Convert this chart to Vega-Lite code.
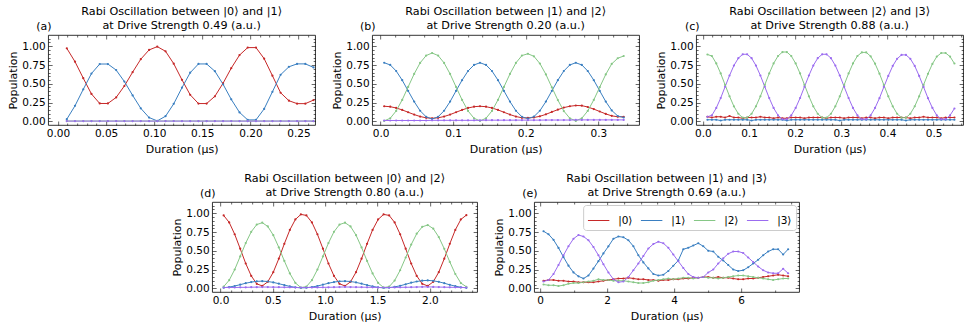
{
"$schema": "https://vega.github.io/schema/vega-lite/v6.json",
"padding": {"left": 7, "top": 5, "right": 2, "bottom": 2},
"background": "white",
"config": {
  "font": "DejaVu Sans",
  "view": {"stroke": "black", "strokeWidth": 0.8},
  "axis": {"domain": false, "grid": false, "tickColor": "black", "tickWidth": 0.6, "labelFont": "DejaVu Sans", "labelFontSize": 10.5, "labelColor": "black", "titleFont": "DejaVu Sans", "titleFontSize": 11, "titleFontWeight": "normal", "titleColor": "black", "labelFlush": false, "labelOverlap": false, "labelBound": false, "labelPadding": 7, "titlePadding": 3},
  "title": {"font": "DejaVu Sans", "fontSize": 11.2, "fontWeight": "normal", "color": "black", "anchor": "middle", "frame": "group", "lineHeight": 14, "offset": -11},
  "line": {"strokeWidth": 1}
},
"datasets": {"rabi": [
{"p":"a","t":0.0092,"s0":0.972,"s1":0.028,"s2":0.003,"s3":0.002},
{"p":"a","t":0.0177,"s0":0.794,"s1":0.206,"s2":0.003,"s3":0.002},
{"p":"a","t":0.0263,"s0":0.574,"s1":0.426,"s2":0.003,"s3":0.002},
{"p":"a","t":0.0348,"s0":0.364,"s1":0.636,"s2":0.003,"s3":0.002},
{"p":"a","t":0.0434,"s0":0.237,"s1":0.763,"s2":0.003,"s3":0.002},
{"p":"a","t":0.0519,"s0":0.237,"s1":0.763,"s2":0.003,"s3":0.002},
{"p":"a","t":0.0605,"s0":0.318,"s1":0.682,"s2":0.003,"s3":0.002},
{"p":"a","t":0.069,"s0":0.470,"s1":0.530,"s2":0.003,"s3":0.002},
{"p":"a","t":0.0776,"s0":0.655,"s1":0.345,"s2":0.003,"s3":0.002},
{"p":"a","t":0.0861,"s0":0.828,"s1":0.172,"s2":0.003,"s3":0.002},
{"p":"a","t":0.0947,"s0":0.951,"s1":0.049,"s2":0.003,"s3":0.002},
{"p":"a","t":0.1032,"s0":0.995,"s1":0.005,"s2":0.003,"s3":0.002},
{"p":"a","t":0.1118,"s0":0.933,"s1":0.067,"s2":0.003,"s3":0.002},
{"p":"a","t":0.1203,"s0":0.768,"s1":0.232,"s2":0.003,"s3":0.002},
{"p":"a","t":0.1289,"s0":0.552,"s1":0.448,"s2":0.003,"s3":0.002},
{"p":"a","t":0.1374,"s0":0.353,"s1":0.647,"s2":0.003,"s3":0.002},
{"p":"a","t":0.146,"s0":0.236,"s1":0.764,"s2":0.003,"s3":0.002},
{"p":"a","t":0.1545,"s0":0.236,"s1":0.764,"s2":0.003,"s3":0.002},
{"p":"a","t":0.1631,"s0":0.333,"s1":0.667,"s2":0.003,"s3":0.002},
{"p":"a","t":0.1716,"s0":0.507,"s1":0.493,"s2":0.003,"s3":0.002},
{"p":"a","t":0.1801,"s0":0.708,"s1":0.292,"s2":0.003,"s3":0.002},
{"p":"a","t":0.1887,"s0":0.882,"s1":0.118,"s2":0.003,"s3":0.002},
{"p":"a","t":0.1972,"s0":0.982,"s1":0.018,"s2":0.003,"s3":0.002},
{"p":"a","t":0.2058,"s0":0.982,"s1":0.018,"s2":0.003,"s3":0.002},
{"p":"a","t":0.2143,"s0":0.835,"s1":0.165,"s2":0.003,"s3":0.002},
{"p":"a","t":0.2229,"s0":0.607,"s1":0.393,"s2":0.003,"s3":0.002},
{"p":"a","t":0.2314,"s0":0.380,"s1":0.620,"s2":0.003,"s3":0.002},
{"p":"a","t":0.24,"s0":0.274,"s1":0.726,"s2":0.003,"s3":0.002},
{"p":"a","t":0.2485,"s0":0.235,"s1":0.765,"s2":0.003,"s3":0.002},
{"p":"a","t":0.2571,"s0":0.235,"s1":0.765,"s2":0.003,"s3":0.002},
{"p":"a","t":0.2656,"s0":0.282,"s1":0.718,"s2":0.003,"s3":0.002},
{"p":"b","t":0.005,"s0":0.200,"s1":0.780,"s2":0.005,"s3":0.010},
{"p":"b","t":0.0133,"s0":0.194,"s1":0.751,"s2":0.040,"s3":0.010},
{"p":"b","t":0.0215,"s0":0.177,"s1":0.670,"s2":0.138,"s3":0.010},
{"p":"b","t":0.0298,"s0":0.151,"s1":0.548,"s2":0.285,"s3":0.010},
{"p":"b","t":0.038,"s0":0.120,"s1":0.405,"s2":0.458,"s3":0.010},
{"p":"b","t":0.0463,"s0":0.089,"s1":0.262,"s2":0.631,"s3":0.010},
{"p":"b","t":0.0545,"s0":0.063,"s1":0.140,"s2":0.778,"s3":0.010},
{"p":"b","t":0.0628,"s0":0.046,"s1":0.059,"s2":0.876,"s3":0.010},
{"p":"b","t":0.071,"s0":0.040,"s1":0.030,"s2":0.910,"s3":0.012},
{"p":"b","t":0.0793,"s0":0.046,"s1":0.059,"s2":0.876,"s3":0.012},
{"p":"b","t":0.0875,"s0":0.063,"s1":0.140,"s2":0.778,"s3":0.012},
{"p":"b","t":0.0958,"s0":0.089,"s1":0.262,"s2":0.631,"s3":0.012},
{"p":"b","t":0.104,"s0":0.120,"s1":0.405,"s2":0.458,"s3":0.012},
{"p":"b","t":0.1123,"s0":0.151,"s1":0.548,"s2":0.285,"s3":0.012},
{"p":"b","t":0.1205,"s0":0.177,"s1":0.670,"s2":0.138,"s3":0.012},
{"p":"b","t":0.1288,"s0":0.194,"s1":0.751,"s2":0.040,"s3":0.012},
{"p":"b","t":0.137,"s0":0.200,"s1":0.780,"s2":0.005,"s3":0.012},
{"p":"b","t":0.1453,"s0":0.194,"s1":0.751,"s2":0.040,"s3":0.014},
{"p":"b","t":0.1535,"s0":0.177,"s1":0.670,"s2":0.138,"s3":0.014},
{"p":"b","t":0.1618,"s0":0.151,"s1":0.548,"s2":0.285,"s3":0.014},
{"p":"b","t":0.17,"s0":0.120,"s1":0.405,"s2":0.458,"s3":0.014},
{"p":"b","t":0.1783,"s0":0.089,"s1":0.262,"s2":0.631,"s3":0.014},
{"p":"b","t":0.1865,"s0":0.063,"s1":0.140,"s2":0.778,"s3":0.015},
{"p":"b","t":0.1948,"s0":0.046,"s1":0.059,"s2":0.876,"s3":0.015},
{"p":"b","t":0.203,"s0":0.045,"s1":0.035,"s2":0.900,"s3":0.015},
{"p":"b","t":0.2113,"s0":0.050,"s1":0.062,"s2":0.866,"s3":0.015},
{"p":"b","t":0.2195,"s0":0.066,"s1":0.140,"s2":0.770,"s3":0.015},
{"p":"b","t":0.2278,"s0":0.092,"s1":0.262,"s2":0.625,"s3":0.016},
{"p":"b","t":0.236,"s0":0.124,"s1":0.405,"s2":0.452,"s3":0.016},
{"p":"b","t":0.2443,"s0":0.155,"s1":0.548,"s2":0.282,"s3":0.016},
{"p":"b","t":0.2525,"s0":0.182,"s1":0.670,"s2":0.136,"s3":0.016},
{"p":"b","t":0.2608,"s0":0.200,"s1":0.751,"s2":0.040,"s3":0.016},
{"p":"b","t":0.269,"s0":0.210,"s1":0.780,"s2":0.005,"s3":0.018},
{"p":"b","t":0.2773,"s0":0.208,"s1":0.751,"s2":0.040,"s3":0.018},
{"p":"b","t":0.2855,"s0":0.190,"s1":0.670,"s2":0.138,"s3":0.018},
{"p":"b","t":0.2938,"s0":0.162,"s1":0.548,"s2":0.285,"s3":0.018},
{"p":"b","t":0.302,"s0":0.130,"s1":0.405,"s2":0.455,"s3":0.018},
{"p":"b","t":0.3103,"s0":0.098,"s1":0.262,"s2":0.625,"s3":0.018},
{"p":"b","t":0.3185,"s0":0.072,"s1":0.145,"s2":0.765,"s3":0.018},
{"p":"b","t":0.3268,"s0":0.060,"s1":0.070,"s2":0.840,"s3":0.018},
{"p":"b","t":0.335,"s0":0.060,"s1":0.050,"s2":0.870,"s3":0.018},
{"p":"c","t":0.01,"s0":0.06,"s1":0.02,"s2":0.890,"s3":0.060},
{"p":"c","t":0.0196,"s0":0.05,"s1":0.02,"s2":0.870,"s3":0.079},
{"p":"c","t":0.0291,"s0":0.06,"s1":0.02,"s2":0.771,"s3":0.177},
{"p":"c","t":0.0387,"s0":0.06,"s1":0.01,"s2":0.637,"s3":0.310},
{"p":"c","t":0.0482,"s0":0.05,"s1":0.02,"s2":0.485,"s3":0.460},
{"p":"c","t":0.0578,"s0":0.07,"s1":0.02,"s2":0.333,"s3":0.610},
{"p":"c","t":0.0673,"s0":0.05,"s1":0.02,"s2":0.199,"s3":0.743},
{"p":"c","t":0.0769,"s0":0.05,"s1":0.02,"s2":0.100,"s3":0.841},
{"p":"c","t":0.0864,"s0":0.04,"s1":0.02,"s2":0.047,"s3":0.893},
{"p":"c","t":0.096,"s0":0.05,"s1":0.02,"s2":0.047,"s3":0.893},
{"p":"c","t":0.1056,"s0":0.05,"s1":0.01,"s2":0.100,"s3":0.841},
{"p":"c","t":0.1151,"s0":0.05,"s1":0.02,"s2":0.199,"s3":0.743},
{"p":"c","t":0.1247,"s0":0.06,"s1":0.02,"s2":0.333,"s3":0.610},
{"p":"c","t":0.1342,"s0":0.05,"s1":0.02,"s2":0.485,"s3":0.460},
{"p":"c","t":0.1438,"s0":0.05,"s1":0.02,"s2":0.637,"s3":0.310},
{"p":"c","t":0.1533,"s0":0.04,"s1":0.02,"s2":0.771,"s3":0.177},
{"p":"c","t":0.1629,"s0":0.05,"s1":0.02,"s2":0.870,"s3":0.079},
{"p":"c","t":0.1725,"s0":0.04,"s1":0.02,"s2":0.923,"s3":0.027},
{"p":"c","t":0.182,"s0":0.04,"s1":0.01,"s2":0.923,"s3":0.027},
{"p":"c","t":0.1916,"s0":0.05,"s1":0.02,"s2":0.870,"s3":0.079},
{"p":"c","t":0.2011,"s0":0.05,"s1":0.02,"s2":0.771,"s3":0.177},
{"p":"c","t":0.2107,"s0":0.05,"s1":0.02,"s2":0.637,"s3":0.310},
{"p":"c","t":0.2202,"s0":0.04,"s1":0.02,"s2":0.485,"s3":0.460},
{"p":"c","t":0.2298,"s0":0.05,"s1":0.02,"s2":0.333,"s3":0.610},
{"p":"c","t":0.2393,"s0":0.05,"s1":0.02,"s2":0.199,"s3":0.743},
{"p":"c","t":0.2489,"s0":0.05,"s1":0.02,"s2":0.100,"s3":0.841},
{"p":"c","t":0.2585,"s0":0.05,"s1":0.02,"s2":0.047,"s3":0.893},
{"p":"c","t":0.268,"s0":0.04,"s1":0.02,"s2":0.047,"s3":0.893},
{"p":"c","t":0.2776,"s0":0.05,"s1":0.02,"s2":0.100,"s3":0.841},
{"p":"c","t":0.2871,"s0":0.05,"s1":0.02,"s2":0.199,"s3":0.743},
{"p":"c","t":0.2967,"s0":0.05,"s1":0.01,"s2":0.333,"s3":0.610},
{"p":"c","t":0.3062,"s0":0.04,"s1":0.02,"s2":0.485,"s3":0.460},
{"p":"c","t":0.3158,"s0":0.05,"s1":0.02,"s2":0.637,"s3":0.310},
{"p":"c","t":0.3253,"s0":0.05,"s1":0.02,"s2":0.771,"s3":0.177},
{"p":"c","t":0.3349,"s0":0.05,"s1":0.02,"s2":0.870,"s3":0.079},
{"p":"c","t":0.3445,"s0":0.04,"s1":0.02,"s2":0.918,"s3":0.027},
{"p":"c","t":0.354,"s0":0.05,"s1":0.02,"s2":0.918,"s3":0.027},
{"p":"c","t":0.3636,"s0":0.05,"s1":0.02,"s2":0.866,"s3":0.079},
{"p":"c","t":0.3731,"s0":0.04,"s1":0.02,"s2":0.768,"s3":0.177},
{"p":"c","t":0.3827,"s0":0.05,"s1":0.02,"s2":0.635,"s3":0.308},
{"p":"c","t":0.3922,"s0":0.05,"s1":0.02,"s2":0.484,"s3":0.457},
{"p":"c","t":0.4018,"s0":0.04,"s1":0.02,"s2":0.333,"s3":0.605},
{"p":"c","t":0.4114,"s0":0.05,"s1":0.02,"s2":0.199,"s3":0.737},
{"p":"c","t":0.4209,"s0":0.05,"s1":0.02,"s2":0.100,"s3":0.833},
{"p":"c","t":0.4305,"s0":0.05,"s1":0.02,"s2":0.047,"s3":0.885},
{"p":"c","t":0.44,"s0":0.05,"s1":0.01,"s2":0.047,"s3":0.885},
{"p":"c","t":0.4496,"s0":0.04,"s1":0.02,"s2":0.100,"s3":0.833},
{"p":"c","t":0.4591,"s0":0.05,"s1":0.02,"s2":0.199,"s3":0.737},
{"p":"c","t":0.4687,"s0":0.05,"s1":0.02,"s2":0.333,"s3":0.605},
{"p":"c","t":0.4782,"s0":0.06,"s1":0.02,"s2":0.484,"s3":0.457},
{"p":"c","t":0.4878,"s0":0.05,"s1":0.02,"s2":0.633,"s3":0.308},
{"p":"c","t":0.4974,"s0":0.05,"s1":0.02,"s2":0.765,"s3":0.177},
{"p":"c","t":0.5069,"s0":0.05,"s1":0.02,"s2":0.862,"s3":0.079},
{"p":"c","t":0.5165,"s0":0.04,"s1":0.02,"s2":0.910,"s3":0.027},
{"p":"c","t":0.526,"s0":0.05,"s1":0.02,"s2":0.910,"s3":0.027},
{"p":"c","t":0.5356,"s0":0.05,"s1":0.02,"s2":0.862,"s3":0.079},
{"p":"c","t":0.5451,"s0":0.05,"s1":0.02,"s2":0.770,"s3":0.170},
{"p":"d","t":0.03,"s0":0.971,"s1":0.007,"s2":0.022,"s3":0.010},
{"p":"d","t":0.0827,"s0":0.878,"s1":0.016,"s2":0.107,"s3":0.010},
{"p":"d","t":0.1354,"s0":0.720,"s1":0.030,"s2":0.249,"s3":0.010},
{"p":"d","t":0.1881,"s0":0.527,"s1":0.048,"s2":0.425,"s3":0.012},
{"p":"d","t":0.2408,"s0":0.330,"s1":0.067,"s2":0.603,"s3":0.012},
{"p":"d","t":0.2935,"s0":0.165,"s1":0.082,"s2":0.753,"s3":0.014},
{"p":"d","t":0.3462,"s0":0.059,"s1":0.092,"s2":0.849,"s3":0.015},
{"p":"d","t":0.3989,"s0":0.031,"s1":0.095,"s2":0.874,"s3":0.016},
{"p":"d","t":0.4516,"s0":0.086,"s1":0.090,"s2":0.824,"s3":0.016},
{"p":"d","t":0.5043,"s0":0.215,"s1":0.078,"s2":0.708,"s3":0.015},
{"p":"d","t":0.557,"s0":0.394,"s1":0.061,"s2":0.545,"s3":0.014},
{"p":"d","t":0.6097,"s0":0.593,"s1":0.042,"s2":0.364,"s3":0.013},
{"p":"d","t":0.6624,"s0":0.778,"s1":0.025,"s2":0.197,"s3":0.012},
{"p":"d","t":0.7151,"s0":0.917,"s1":0.012,"s2":0.071,"s3":0.010},
{"p":"d","t":0.7678,"s0":0.985,"s1":0.005,"s2":0.009,"s3":0.010},
{"p":"d","t":0.8205,"s0":0.971,"s1":0.007,"s2":0.022,"s3":0.010},
{"p":"d","t":0.8732,"s0":0.878,"s1":0.016,"s2":0.107,"s3":0.010},
{"p":"d","t":0.9259,"s0":0.720,"s1":0.030,"s2":0.249,"s3":0.011},
{"p":"d","t":0.9786,"s0":0.527,"s1":0.048,"s2":0.425,"s3":0.012},
{"p":"d","t":1.0313,"s0":0.330,"s1":0.067,"s2":0.603,"s3":0.013},
{"p":"d","t":1.084,"s0":0.165,"s1":0.082,"s2":0.753,"s3":0.014},
{"p":"d","t":1.1367,"s0":0.059,"s1":0.092,"s2":0.849,"s3":0.016},
{"p":"d","t":1.1894,"s0":0.031,"s1":0.095,"s2":0.874,"s3":0.017},
{"p":"d","t":1.2421,"s0":0.086,"s1":0.090,"s2":0.824,"s3":0.016},
{"p":"d","t":1.2948,"s0":0.215,"s1":0.078,"s2":0.708,"s3":0.015},
{"p":"d","t":1.3475,"s0":0.394,"s1":0.061,"s2":0.545,"s3":0.014},
{"p":"d","t":1.4002,"s0":0.593,"s1":0.042,"s2":0.364,"s3":0.013},
{"p":"d","t":1.4529,"s0":0.778,"s1":0.025,"s2":0.197,"s3":0.012},
{"p":"d","t":1.5056,"s0":0.917,"s1":0.012,"s2":0.071,"s3":0.010},
{"p":"d","t":1.5583,"s0":0.985,"s1":0.005,"s2":0.009,"s3":0.010},
{"p":"d","t":1.611,"s0":0.971,"s1":0.008,"s2":0.021,"s3":0.010},
{"p":"d","t":1.6637,"s0":0.878,"s1":0.018,"s2":0.103,"s3":0.011},
{"p":"d","t":1.7164,"s0":0.720,"s1":0.033,"s2":0.240,"s3":0.012},
{"p":"d","t":1.7691,"s0":0.527,"s1":0.053,"s2":0.410,"s3":0.013},
{"p":"d","t":1.8218,"s0":0.330,"s1":0.074,"s2":0.582,"s3":0.014},
{"p":"d","t":1.8745,"s0":0.165,"s1":0.090,"s2":0.727,"s3":0.016},
{"p":"d","t":1.9272,"s0":0.059,"s1":0.101,"s2":0.819,"s3":0.018},
{"p":"d","t":1.9799,"s0":0.031,"s1":0.105,"s2":0.843,"s3":0.018},
{"p":"d","t":2.0326,"s0":0.086,"s1":0.099,"s2":0.795,"s3":0.017},
{"p":"d","t":2.0853,"s0":0.215,"s1":0.086,"s2":0.683,"s3":0.016},
{"p":"d","t":2.138,"s0":0.394,"s1":0.067,"s2":0.526,"s3":0.014},
{"p":"d","t":2.1907,"s0":0.593,"s1":0.046,"s2":0.351,"s3":0.013},
{"p":"d","t":2.2434,"s0":0.778,"s1":0.028,"s2":0.190,"s3":0.012},
{"p":"d","t":2.2961,"s0":0.917,"s1":0.013,"s2":0.069,"s3":0.010},
{"p":"d","t":2.3488,"s0":0.975,"s1":0.006,"s2":0.020,"s3":0.010},
{"p":"e","t":0.1,"s0":0.10,"s1":0.76,"s2":0.05,"s3":0.09},
{"p":"e","t":0.249,"s0":0.11,"s1":0.72,"s2":0.04,"s3":0.11},
{"p":"e","t":0.398,"s0":0.11,"s1":0.646,"s2":0.04,"s3":0.19},
{"p":"e","t":0.547,"s0":0.10,"s1":0.538,"s2":0.03,"s3":0.31},
{"p":"e","t":0.696,"s0":0.10,"s1":0.416,"s2":0.04,"s3":0.44},
{"p":"e","t":0.845,"s0":0.09,"s1":0.301,"s2":0.06,"s3":0.56},
{"p":"e","t":0.994,"s0":0.09,"s1":0.211,"s2":0.07,"s3":0.66},
{"p":"e","t":1.143,"s0":0.08,"s1":0.159,"s2":0.07,"s3":0.71},
{"p":"e","t":1.292,"s0":0.08,"s1":0.13,"s2":0.08,"s3":0.69},
{"p":"e","t":1.441,"s0":0.08,"s1":0.17,"s2":0.09,"s3":0.64},
{"p":"e","t":1.59,"s0":0.08,"s1":0.263,"s2":0.10,"s3":0.55},
{"p":"e","t":1.739,"s0":0.09,"s1":0.361,"s2":0.12,"s3":0.44},
{"p":"e","t":1.888,"s0":0.10,"s1":0.465,"s2":0.11,"s3":0.32},
{"p":"e","t":2.037,"s0":0.11,"s1":0.559,"s2":0.11,"s3":0.21},
{"p":"e","t":2.186,"s0":0.12,"s1":0.66,"s2":0.10,"s3":0.12},
{"p":"e","t":2.335,"s0":0.13,"s1":0.69,"s2":0.10,"s3":0.08},
{"p":"e","t":2.484,"s0":0.13,"s1":0.68,"s2":0.10,"s3":0.09},
{"p":"e","t":2.633,"s0":0.14,"s1":0.64,"s2":0.09,"s3":0.15},
{"p":"e","t":2.782,"s0":0.13,"s1":0.56,"s2":0.08,"s3":0.24},
{"p":"e","t":2.931,"s0":0.12,"s1":0.44,"s2":0.07,"s3":0.33},
{"p":"e","t":3.08,"s0":0.12,"s1":0.345,"s2":0.07,"s3":0.43},
{"p":"e","t":3.229,"s0":0.11,"s1":0.265,"s2":0.08,"s3":0.53},
{"p":"e","t":3.378,"s0":0.11,"s1":0.19,"s2":0.10,"s3":0.59},
{"p":"e","t":3.527,"s0":0.10,"s1":0.17,"s2":0.11,"s3":0.62},
{"p":"e","t":3.676,"s0":0.11,"s1":0.18,"s2":0.12,"s3":0.60},
{"p":"e","t":3.825,"s0":0.11,"s1":0.23,"s2":0.13,"s3":0.54},
{"p":"e","t":3.974,"s0":0.12,"s1":0.30,"s2":0.12,"s3":0.45},
{"p":"e","t":4.123,"s0":0.12,"s1":0.37,"s2":0.13,"s3":0.36},
{"p":"e","t":4.272,"s0":0.13,"s1":0.52,"s2":0.14,"s3":0.27},
{"p":"e","t":4.421,"s0":0.13,"s1":0.54,"s2":0.14,"s3":0.19},
{"p":"e","t":4.57,"s0":0.14,"s1":0.57,"s2":0.13,"s3":0.15},
{"p":"e","t":4.719,"s0":0.14,"s1":0.60,"s2":0.14,"s3":0.14},
{"p":"e","t":4.868,"s0":0.15,"s1":0.56,"s2":0.15,"s3":0.15},
{"p":"e","t":5.017,"s0":0.15,"s1":0.50,"s2":0.14,"s3":0.21},
{"p":"e","t":5.166,"s0":0.14,"s1":0.49,"s2":0.14,"s3":0.25},
{"p":"e","t":5.315,"s0":0.15,"s1":0.42,"s2":0.13,"s3":0.33},
{"p":"e","t":5.464,"s0":0.14,"s1":0.37,"s2":0.14,"s3":0.40},
{"p":"e","t":5.613,"s0":0.14,"s1":0.31,"s2":0.15,"s3":0.46},
{"p":"e","t":5.762,"s0":0.13,"s1":0.25,"s2":0.16,"s3":0.49},
{"p":"e","t":5.911,"s0":0.12,"s1":0.23,"s2":0.17,"s3":0.49},
{"p":"e","t":6.06,"s0":0.12,"s1":0.24,"s2":0.17,"s3":0.47},
{"p":"e","t":6.209,"s0":0.13,"s1":0.28,"s2":0.16,"s3":0.41},
{"p":"e","t":6.358,"s0":0.13,"s1":0.33,"s2":0.15,"s3":0.35},
{"p":"e","t":6.507,"s0":0.14,"s1":0.38,"s2":0.14,"s3":0.29},
{"p":"e","t":6.656,"s0":0.15,"s1":0.44,"s2":0.13,"s3":0.24},
{"p":"e","t":6.805,"s0":0.16,"s1":0.49,"s2":0.12,"s3":0.21},
{"p":"e","t":6.954,"s0":0.17,"s1":0.52,"s2":0.11,"s3":0.20},
{"p":"e","t":7.103,"s0":0.18,"s1":0.52,"s2":0.12,"s3":0.20},
{"p":"e","t":7.252,"s0":0.17,"s1":0.45,"s2":0.13,"s3":0.26},
{"p":"e","t":7.401,"s0":0.16,"s1":0.52,"s2":0.13,"s3":0.20}
]},
"vconcat": [
 {"hconcat": [
  {"width": 267, "height": 90,
   "title": {"text": ["Rabi Oscillation between |0⟩ and |1⟩", "at Drive Strength 0.49 (a.u.)"]},
   "data": {"name": "rabi"},
   "transform": [{"filter": "datum.p == 'a'"}, {"fold": ["s0","s1","s2","s3"], "as": ["state","pop"]}],
   "layer": [
    {"mark": {"type": "line", "strokeWidth": 1, "point": {"filled": true, "size": 5}},
     "encoding": {
      "x": {"field": "t", "type": "quantitative", "scale": {"domain": [-0.0102, 0.2673], "nice": false, "zero": false},
            "axis": {"orient": "bottom", "title": "Duration (μs)", "format": ".2f", "values": [0,0.01,0.02,0.03,0.04,0.05,0.06,0.07,0.08,0.09,0.1,0.11,0.12,0.13,0.14,0.15,0.16,0.17,0.18,0.19,0.2,0.21,0.22,0.23,0.24,0.25,0.26],
                     "labelExpr": "abs(datum.value*20-round(datum.value*20))<0.001 ? datum.label : ''",
                     "tickSize": {"condition": {"test": "abs(datum.value*20-round(datum.value*20))<0.001", "value": -4}, "value": -2}}},
      "y": {"field": "pop", "type": "quantitative", "scale": {"domain": [-0.05, 1.15], "nice": false, "zero": false},
            "axis": {"orient": "left", "title": "Population", "format": ".2f", "values": [0,0.05,0.1,0.15,0.2,0.25,0.3,0.35,0.4,0.45,0.5,0.55,0.6,0.65,0.7,0.75,0.8,0.85,0.9,0.95,1,1.05,1.1],
                     "labelExpr": "abs(datum.value*4-round(datum.value*4))<0.001 ? datum.label : ''",
                     "tickSize": {"condition": {"test": "abs(datum.value*4-round(datum.value*4))<0.001", "value": -4}, "value": -2}}},
      "color": {"field": "state", "type": "nominal", "scale": {"domain": ["s0","s1","s2","s3"], "range": ["#c62828","#3a7fc1","#86c786","#9b6cf0"]}, "legend": null}
     }},
    {"mark": {"type": "line", "opacity": 0},
     "encoding": {
      "x": {"field": "t", "type": "quantitative", "scale": {"domain": [-0.0102, 0.2673], "nice": false, "zero": false},
            "axis": {"orient": "top", "title": "(a)", "titleAnchor": "start", "titleAlign": "right", "titleAngle": 0, "titleBaseline": "alphabetic", "titleX": 3, "titleY": -6, "labels": false,
                     "values": [0,0.01,0.02,0.03,0.04,0.05,0.06,0.07,0.08,0.09,0.1,0.11,0.12,0.13,0.14,0.15,0.16,0.17,0.18,0.19,0.2,0.21,0.22,0.23,0.24,0.25,0.26],
                     "tickSize": {"condition": {"test": "abs(datum.value*20-round(datum.value*20))<0.001", "value": -4}, "value": -2}}},
      "y": {"field": "pop", "type": "quantitative", "scale": {"domain": [-0.05, 1.15], "nice": false, "zero": false},
            "axis": {"orient": "right", "title": null, "labels": false, "values": [0,0.05,0.1,0.15,0.2,0.25,0.3,0.35,0.4,0.45,0.5,0.55,0.6,0.65,0.7,0.75,0.8,0.85,0.9,0.95,1,1.05,1.1],
                     "tickSize": {"condition": {"test": "abs(datum.value*4-round(datum.value*4))<0.001", "value": -4}, "value": -2}}},
      "detail": {"field": "state"}
     }}
   ],
   "resolve": {"axis": {"x": "independent", "y": "independent"}}
  },
  {"width": 267, "height": 90,
   "title": {"text": ["Rabi Oscillation between |1⟩ and |2⟩", "at Drive Strength 0.20 (a.u.)"]},
   "data": {"name": "rabi"},
   "transform": [{"filter": "datum.p == 'b'"}, {"fold": ["s0","s1","s2","s3"], "as": ["state","pop"]}],
   "layer": [
    {"mark": {"type": "line", "strokeWidth": 1, "point": {"filled": true, "size": 5}},
     "encoding": {
      "x": {"field": "t", "type": "quantitative", "scale": {"domain": [-0.0116, 0.3563], "nice": false, "zero": false},
            "axis": {"orient": "bottom", "title": "Duration (μs)", "format": ".1f", "values": [0,0.02,0.04,0.06,0.08,0.1,0.12,0.14,0.16,0.18,0.2,0.22,0.24,0.26,0.28,0.3,0.32,0.34],
                     "labelExpr": "abs(datum.value*10-round(datum.value*10))<0.001 ? datum.label : ''",
                     "tickSize": {"condition": {"test": "abs(datum.value*10-round(datum.value*10))<0.001", "value": -4}, "value": -2}}},
      "y": {"field": "pop", "type": "quantitative", "scale": {"domain": [-0.05, 1.15], "nice": false, "zero": false},
            "axis": {"orient": "left", "title": "Population", "format": ".2f", "values": [0,0.05,0.1,0.15,0.2,0.25,0.3,0.35,0.4,0.45,0.5,0.55,0.6,0.65,0.7,0.75,0.8,0.85,0.9,0.95,1,1.05,1.1],
                     "labelExpr": "abs(datum.value*4-round(datum.value*4))<0.001 ? datum.label : ''",
                     "tickSize": {"condition": {"test": "abs(datum.value*4-round(datum.value*4))<0.001", "value": -4}, "value": -2}}},
      "color": {"field": "state", "type": "nominal", "scale": {"domain": ["s0","s1","s2","s3"], "range": ["#c62828","#3a7fc1","#86c786","#9b6cf0"]}, "legend": null}
     }},
    {"mark": {"type": "line", "opacity": 0},
     "encoding": {
      "x": {"field": "t", "type": "quantitative", "scale": {"domain": [-0.0116, 0.3563], "nice": false, "zero": false},
            "axis": {"orient": "top", "title": "(b)", "titleAnchor": "start", "titleAlign": "right", "titleAngle": 0, "titleBaseline": "alphabetic", "titleX": 3, "titleY": -6, "labels": false,
                     "values": [0,0.02,0.04,0.06,0.08,0.1,0.12,0.14,0.16,0.18,0.2,0.22,0.24,0.26,0.28,0.3,0.32,0.34],
                     "tickSize": {"condition": {"test": "abs(datum.value*10-round(datum.value*10))<0.001", "value": -4}, "value": -2}}},
      "y": {"field": "pop", "type": "quantitative", "scale": {"domain": [-0.05, 1.15], "nice": false, "zero": false},
            "axis": {"orient": "right", "title": null, "labels": false, "values": [0,0.05,0.1,0.15,0.2,0.25,0.3,0.35,0.4,0.45,0.5,0.55,0.6,0.65,0.7,0.75,0.8,0.85,0.9,0.95,1,1.05,1.1],
                     "tickSize": {"condition": {"test": "abs(datum.value*4-round(datum.value*4))<0.001", "value": -4}, "value": -2}}},
      "detail": {"field": "state"}
     }}
   ],
   "resolve": {"axis": {"x": "independent", "y": "independent"}}
  },
  {"width": 267, "height": 90,
   "title": {"text": ["Rabi Oscillation between |2⟩ and |3⟩", "at Drive Strength 0.88 (a.u.)"]},
   "data": {"name": "rabi"},
   "transform": [{"filter": "datum.p == 'c'"}, {"fold": ["s0","s1","s2","s3"], "as": ["state","pop"]}],
   "layer": [
    {"mark": {"type": "line", "strokeWidth": 1, "point": {"filled": true, "size": 5}},
     "encoding": {
      "x": {"field": "t", "type": "quantitative", "scale": {"domain": [-0.0145, 0.564], "nice": false, "zero": false},
            "axis": {"orient": "bottom", "title": "Duration (μs)", "format": ".1f", "values": [0,0.02,0.04,0.06,0.08,0.1,0.12,0.14,0.16,0.18,0.2,0.22,0.24,0.26,0.28,0.3,0.32,0.34,0.36,0.38,0.4,0.42,0.44,0.46,0.48,0.5,0.52,0.54,0.56],
                     "labelExpr": "abs(datum.value*10-round(datum.value*10))<0.001 ? datum.label : ''",
                     "tickSize": {"condition": {"test": "abs(datum.value*10-round(datum.value*10))<0.001", "value": -4}, "value": -2}}},
      "y": {"field": "pop", "type": "quantitative", "scale": {"domain": [-0.05, 1.15], "nice": false, "zero": false},
            "axis": {"orient": "left", "title": "Population", "format": ".2f", "values": [0,0.05,0.1,0.15,0.2,0.25,0.3,0.35,0.4,0.45,0.5,0.55,0.6,0.65,0.7,0.75,0.8,0.85,0.9,0.95,1,1.05,1.1],
                     "labelExpr": "abs(datum.value*4-round(datum.value*4))<0.001 ? datum.label : ''",
                     "tickSize": {"condition": {"test": "abs(datum.value*4-round(datum.value*4))<0.001", "value": -4}, "value": -2}}},
      "color": {"field": "state", "type": "nominal", "scale": {"domain": ["s0","s1","s2","s3"], "range": ["#c62828","#3a7fc1","#86c786","#9b6cf0"]}, "legend": null}
     }},
    {"mark": {"type": "line", "opacity": 0},
     "encoding": {
      "x": {"field": "t", "type": "quantitative", "scale": {"domain": [-0.0145, 0.564], "nice": false, "zero": false},
            "axis": {"orient": "top", "title": "(c)", "titleAnchor": "start", "titleAlign": "right", "titleAngle": 0, "titleBaseline": "alphabetic", "titleX": 3, "titleY": -6, "labels": false,
                     "values": [0,0.02,0.04,0.06,0.08,0.1,0.12,0.14,0.16,0.18,0.2,0.22,0.24,0.26,0.28,0.3,0.32,0.34,0.36,0.38,0.4,0.42,0.44,0.46,0.48,0.5,0.52,0.54,0.56],
                     "tickSize": {"condition": {"test": "abs(datum.value*10-round(datum.value*10))<0.001", "value": -4}, "value": -2}}},
      "y": {"field": "pop", "type": "quantitative", "scale": {"domain": [-0.05, 1.15], "nice": false, "zero": false},
            "axis": {"orient": "right", "title": null, "labels": false, "values": [0,0.05,0.1,0.15,0.2,0.25,0.3,0.35,0.4,0.45,0.5,0.55,0.6,0.65,0.7,0.75,0.8,0.85,0.9,0.95,1,1.05,1.1],
                     "tickSize": {"condition": {"test": "abs(datum.value*4-round(datum.value*4))<0.001", "value": -4}, "value": -2}}},
      "detail": {"field": "state"}
     }}
   ],
   "resolve": {"axis": {"x": "independent", "y": "independent"}}
  }
 ], "spacing": 57, "bounds": "flush",
 "resolve": {"scale": {"color": "independent"}, "legend": {"color": "independent"}}},
 {"hconcat": [
  {"width": 265, "height": 90,
   "title": {"text": ["Rabi Oscillation between |0⟩ and |2⟩", "at Drive Strength 0.80 (a.u.)"]},
   "data": {"name": "rabi"},
   "transform": [{"filter": "datum.p == 'd'"}, {"fold": ["s0","s1","s2","s3"], "as": ["state","pop"]}],
   "layer": [
    {"mark": {"type": "line", "strokeWidth": 1, "point": {"filled": true, "size": 5}},
     "encoding": {
      "x": {"field": "t", "type": "quantitative", "scale": {"domain": [-0.08, 2.452], "nice": false, "zero": false},
            "axis": {"orient": "bottom", "title": "Duration (μs)", "format": ".1f", "values": [0,0.1,0.2,0.3,0.4,0.5,0.6,0.7,0.8,0.9,1,1.1,1.2,1.3,1.4,1.5,1.6,1.7,1.8,1.9,2,2.1,2.2,2.3,2.4],
                     "labelExpr": "abs(datum.value*2-round(datum.value*2))<0.001 ? datum.label : ''",
                     "tickSize": {"condition": {"test": "abs(datum.value*2-round(datum.value*2))<0.001", "value": -4}, "value": -2}}},
      "y": {"field": "pop", "type": "quantitative", "scale": {"domain": [-0.05, 1.15], "nice": false, "zero": false},
            "axis": {"orient": "left", "title": "Population", "format": ".2f", "values": [0,0.05,0.1,0.15,0.2,0.25,0.3,0.35,0.4,0.45,0.5,0.55,0.6,0.65,0.7,0.75,0.8,0.85,0.9,0.95,1,1.05,1.1],
                     "labelExpr": "abs(datum.value*4-round(datum.value*4))<0.001 ? datum.label : ''",
                     "tickSize": {"condition": {"test": "abs(datum.value*4-round(datum.value*4))<0.001", "value": -4}, "value": -2}}},
      "color": {"field": "state", "type": "nominal", "scale": {"domain": ["s0","s1","s2","s3"], "range": ["#c62828","#3a7fc1","#86c786","#9b6cf0"]}, "legend": null}
     }},
    {"mark": {"type": "line", "opacity": 0},
     "encoding": {
      "x": {"field": "t", "type": "quantitative", "scale": {"domain": [-0.08, 2.452], "nice": false, "zero": false},
            "axis": {"orient": "top", "title": "(d)", "titleAnchor": "start", "titleAlign": "right", "titleAngle": 0, "titleBaseline": "alphabetic", "titleX": 3, "titleY": -6, "labels": false,
                     "values": [0,0.1,0.2,0.3,0.4,0.5,0.6,0.7,0.8,0.9,1,1.1,1.2,1.3,1.4,1.5,1.6,1.7,1.8,1.9,2,2.1,2.2,2.3,2.4],
                     "tickSize": {"condition": {"test": "abs(datum.value*2-round(datum.value*2))<0.001", "value": -4}, "value": -2}}},
      "y": {"field": "pop", "type": "quantitative", "scale": {"domain": [-0.05, 1.15], "nice": false, "zero": false},
            "axis": {"orient": "right", "title": null, "labels": false, "values": [0,0.05,0.1,0.15,0.2,0.25,0.3,0.35,0.4,0.45,0.5,0.55,0.6,0.65,0.7,0.75,0.8,0.85,0.9,0.95,1,1.05,1.1],
                     "tickSize": {"condition": {"test": "abs(datum.value*4-round(datum.value*4))<0.001", "value": -4}, "value": -2}}},
      "detail": {"field": "state"}
     }}
   ],
   "resolve": {"axis": {"x": "independent", "y": "independent"}}
  },
  {"width": 265, "height": 90,
   "title": {"text": ["Rabi Oscillation between |1⟩ and |3⟩", "at Drive Strength 0.69 (a.u.)"]},
   "data": {"name": "rabi"},
   "transform": [{"filter": "datum.p == 'e'"}, {"fold": ["s0","s1","s2","s3"], "as": ["state","pop"]}],
   "layer": [
    {"mark": {"type": "line", "strokeWidth": 1},
     "encoding": {
      "x": {"field": "t", "type": "quantitative", "scale": {"domain": [-0.18, 7.73], "nice": false, "zero": false},
            "axis": {"orient": "bottom", "title": "Duration (μs)", "format": "d", "values": [0,0.5,1,1.5,2,2.5,3,3.5,4,4.5,5,5.5,6,6.5,7,7.5],
                     "labelExpr": "abs(datum.value/2-round(datum.value/2))<0.001 ? datum.label : ''",
                     "tickSize": {"condition": {"test": "abs(datum.value/2-round(datum.value/2))<0.001", "value": -4}, "value": -2}}},
      "y": {"field": "pop", "type": "quantitative", "scale": {"domain": [-0.05, 1.15], "nice": false, "zero": false},
            "axis": {"orient": "left", "title": "Population", "format": ".2f", "values": [0,0.05,0.1,0.15,0.2,0.25,0.3,0.35,0.4,0.45,0.5,0.55,0.6,0.65,0.7,0.75,0.8,0.85,0.9,0.95,1,1.05,1.1],
                     "labelExpr": "abs(datum.value*4-round(datum.value*4))<0.001 ? datum.label : ''",
                     "tickSize": {"condition": {"test": "abs(datum.value*4-round(datum.value*4))<0.001", "value": -4}, "value": -2}}},
      "color": {"field": "state", "type": "nominal", "scale": {"domain": ["s0","s1","s2","s3"], "range": ["#c62828","#3a7fc1","#86c786","#9b6cf0"]},
                "legend": {"orient": "top-right", "direction": "horizontal", "title": null, "symbolType": "stroke", "symbolSize": 460, "symbolStrokeWidth": 1.2,
                           "labelFontSize": 10.5, "labelFont": "DejaVu Sans", "labelColor": "black", "labelOffset": 8, "columnPadding": 5,
                           "labelExpr": "'|' + substring(datum.label, 1, 2) + '⟩'",
                           "strokeColor": "#cccccc", "fillColor": "rgba(255,255,255,0.85)", "cornerRadius": 3, "padding": 4, "offset": 3}}
     }},
    {"mark": {"type": "line", "opacity": 0},
     "encoding": {
      "x": {"field": "t", "type": "quantitative", "scale": {"domain": [-0.18, 7.73], "nice": false, "zero": false},
            "axis": {"orient": "top", "title": "(e)", "titleAnchor": "start", "titleAlign": "right", "titleAngle": 0, "titleBaseline": "alphabetic", "titleX": 3, "titleY": -6, "labels": false,
                     "values": [0,0.5,1,1.5,2,2.5,3,3.5,4,4.5,5,5.5,6,6.5,7,7.5],
                     "tickSize": {"condition": {"test": "abs(datum.value/2-round(datum.value/2))<0.001", "value": -4}, "value": -2}}},
      "y": {"field": "pop", "type": "quantitative", "scale": {"domain": [-0.05, 1.15], "nice": false, "zero": false},
            "axis": {"orient": "right", "title": null, "labels": false, "values": [0,0.05,0.1,0.15,0.2,0.25,0.3,0.35,0.4,0.45,0.5,0.55,0.6,0.65,0.7,0.75,0.8,0.85,0.9,0.95,1,1.05,1.1],
                     "tickSize": {"condition": {"test": "abs(datum.value*4-round(datum.value*4))<0.001", "value": -4}, "value": -2}}},
      "detail": {"field": "state"}
     }},
    {"mark": {"type": "point", "filled": true, "size": 5, "opacity": 1},
     "encoding": {
      "x": {"field": "t", "type": "quantitative", "scale": {"domain": [-0.18, 7.73], "nice": false, "zero": false}, "axis": null},
      "y": {"field": "pop", "type": "quantitative", "scale": {"domain": [-0.05, 1.15], "nice": false, "zero": false}, "axis": null},
      "fill": {"field": "state", "type": "nominal", "scale": {"domain": ["s0","s1","s2","s3"], "range": ["#c62828","#3a7fc1","#86c786","#9b6cf0"]}, "legend": null}
     }}
   ],
   "resolve": {"axis": {"x": "independent", "y": "independent"}}
  }
 ], "spacing": 57, "bounds": "flush",
 "resolve": {"scale": {"color": "independent", "fill": "independent"}, "legend": {"color": "independent", "fill": "independent"}}}
],
"spacing": 17,
"center": true,
"resolve": {"scale": {"color": "independent", "fill": "independent"}, "legend": {"color": "independent", "fill": "independent"}}
}
